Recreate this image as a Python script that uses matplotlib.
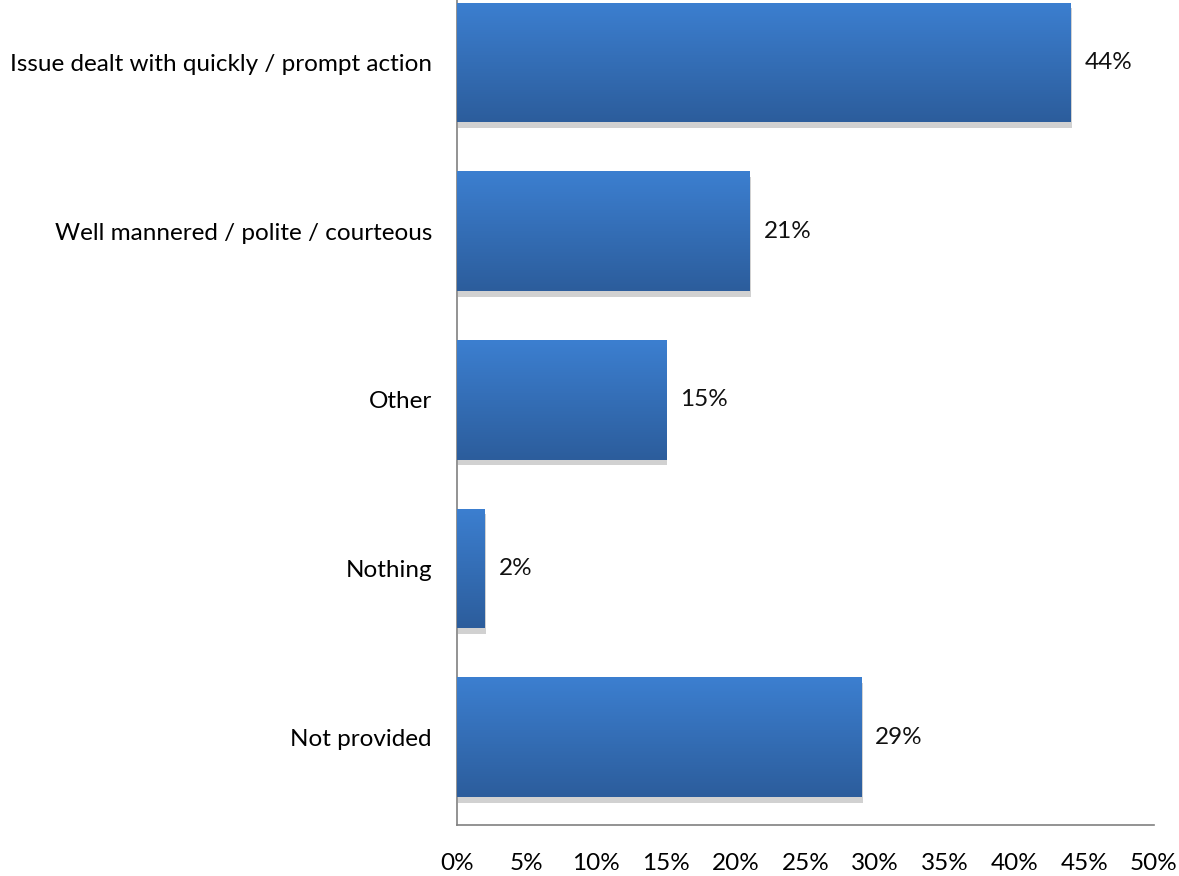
import numpy as np
import matplotlib
matplotlib.use("Agg")
import matplotlib.pyplot as plt
import matplotlib.patheffects as pe
from matplotlib.colors import LinearSegmentedColormap

categories = ["Issue dealt with quickly / prompt action",
              "Well mannered / polite / courteous",
              "Other",
              "Nothing",
              "Not provided"]
values = [44, 21, 15, 2, 29]
xticks = [0, 5, 10, 15, 20, 25, 30, 35, 40, 45, 50]

plt.rcParams['font.family'] = ['Lato', 'DejaVu Sans']

fig = plt.figure(figsize=(11.79, 8.76), dpi=100)
ax = fig.add_axes([457 / 1179, 1 - 825 / 876, (1154 - 457) / 1179, 825 / 876])

ypos = np.arange(len(categories))
bars = ax.barh(ypos, values, height=0.71, color="#3570bb", zorder=2,
               path_effects=[pe.SimplePatchShadow(offset=(1, -4), shadow_rgbFace="#000000", alpha=0.18),
                             pe.Normal()])

# vertical gradient on each bar, lighter on top
cmap = LinearSegmentedColormap.from_list("grad", ["#3c7fd0", "#2c5d9c"])
grad = np.linspace(0, 1, 256).reshape(-1, 1)
for b in bars:
    x0, y0 = b.get_x(), b.get_y()
    w, h = b.get_width(), b.get_height()
    im = ax.imshow(grad, cmap=cmap, aspect='auto', interpolation='bicubic',
                   extent=(x0, x0 + w, y0 + h, y0), zorder=3)
    im.set_clip_path(b)

for y, v in zip(ypos, values):
    ax.annotate(f"{v}%", (v, y), xytext=(10, 0), textcoords="offset points",
                va="center", ha="left", fontsize=17.5, color="#111111")

ax.set_xlim(0, 50)
ax.set_ylim(4.52, -0.37)
ax.set_xticks(xticks)
ax.set_xticklabels([f"{t}%" for t in xticks], fontsize=17.5)
ax.set_yticks(ypos)
ax.set_yticklabels(categories, fontsize=17.5)
ax.tick_params(axis='x', length=0, pad=20)
ax.tick_params(axis='y', length=0, pad=18)

for s in ["top", "right"]:
    ax.spines[s].set_visible(False)
for s in ["left", "bottom"]:
    ax.spines[s].set_color("#808080")
    ax.spines[s].set_linewidth(1.2)

fig.savefig("out.png", dpi=100)
